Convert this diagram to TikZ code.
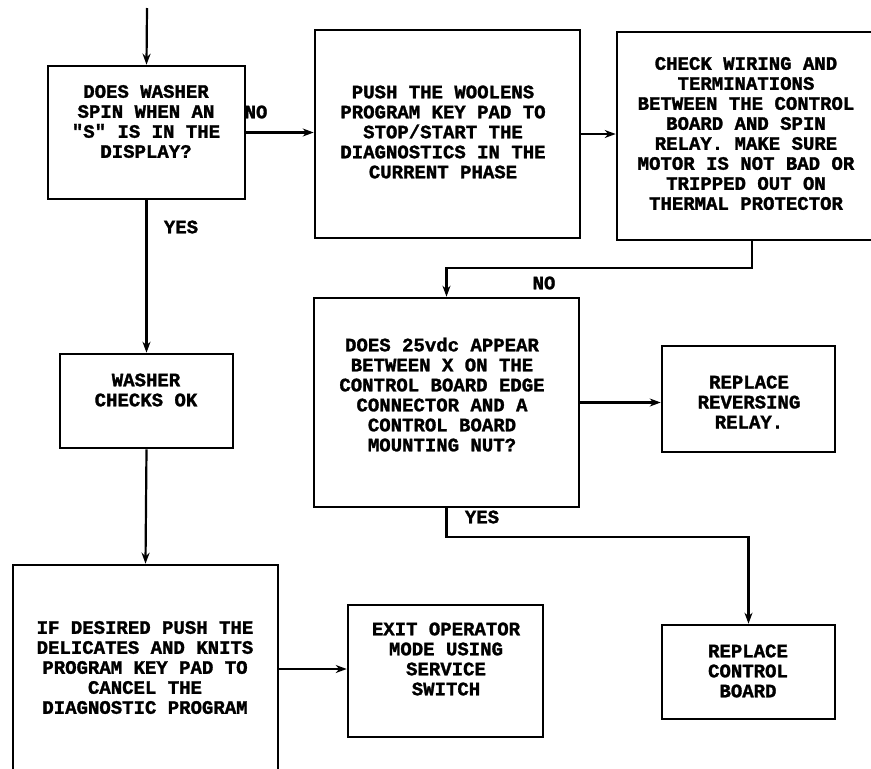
\documentclass[tikz,border=0pt]{standalone}
\usepackage{fontspec}
\newfontfamily\diagfont[BoldFeatures={FakeBold=1.5}]{Liberation Mono}
\usetikzlibrary{arrows.meta}
\begin{document}
\begin{tikzpicture}[x=1pt,y=-1pt,
  box/.style={draw, line width=2.6pt, inner sep=0pt, rectangle},
  txt/.style={font=\diagfont\bfseries\fontsize{19}{20}\selectfont, align=center, inner sep=0pt},
  lbl/.style={font=\diagfont\bfseries\fontsize{19}{20}\selectfont, inner sep=0pt},
  conn/.style={line width=2.2pt, -{Stealth[length=11pt,width=8pt]}}]
\useasboundingbox (0,0) rectangle (871,769);
\clip (0,0) rectangle (871,769);
% boxes
\node[box, minimum width=197pt, minimum height=133pt] (A) at (146.5,132.5) {};
\node[box, minimum width=265pt, minimum height=208pt] (B) at (447.5,134) {};
\node[box, minimum width=258pt, minimum height=208pt] (C) at (746,136) {};
\node[box, minimum width=265pt, minimum height=209pt] (D) at (446.5,402.5) {};
\node[box, minimum width=173pt, minimum height=106pt] (E) at (748.5,399) {};
\node[box, minimum width=173pt, minimum height=94pt] (F) at (748.5,672) {};
\node[box, minimum width=173pt, minimum height=94pt] (G) at (146.5,401) {};
\node[box, minimum width=265pt, minimum height=208pt] (H) at (145.5,669) {};
\node[box, minimum width=195pt, minimum height=132pt] (I) at (445.5,671) {};
% texts
\node[txt] (At) at (146,121.5) {DOES WASHER\\SPIN WHEN AN\\"S" IS IN THE\\DISPLAY?};
\node[txt] (Bt) at (443,132) {PUSH THE WOOLENS\\PROGRAM KEY PAD TO\\STOP/START THE\\DIAGNOSTICS IN THE\\CURRENT PHASE};
\node[txt] (Ct) at (746,133.5) {CHECK WIRING AND\\TERMINATIONS\\BETWEEN THE CONTROL\\BOARD AND SPIN\\RELAY. MAKE SURE\\MOTOR IS NOT BAD OR\\TRIPPED OUT ON\\THERMAL PROTECTOR};
\node[txt] (Dt) at (442,394.5) {DOES 25vdc APPEAR\\BETWEEN X ON THE\\CONTROL BOARD EDGE\\CONNECTOR AND A\\CONTROL BOARD\\MOUNTING NUT?};
\node[txt] (Et) at (749,402) {REPLACE\\REVERSING\\RELAY.};
\node[txt] (Ft) at (748,671) {REPLACE\\CONTROL\\BOARD};
\node[txt] (Gt) at (146,390) {WASHER\\CHECKS OK};
\node[txt] (Ht) at (145,667.5) {IF DESIRED PUSH THE\\DELICATES AND KNITS\\PROGRAM KEY PAD TO\\CANCEL THE\\DIAGNOSTIC PROGRAM};
\node[txt] (It) at (446,659) {EXIT OPERATOR\\MODE USING\\SERVICE\\SWITCH};
% labels
\node[lbl] (no1) at (256,112) {NO};
\node[lbl] (yes1) at (181,227) {YES};
\node[lbl] (no2) at (544,283) {NO};
\node[lbl] (yes2) at (482,517) {YES};
% connectors
\coordinate (start) at (147,8);
\draw[conn] (start) -- (A.north);
\draw[conn] (A.east) -- (A.east -| B.west);
\draw[conn] (B.east) -- (B.east -| C.west);
\draw[conn] ([xshift=6pt]C.south) -- ++(0,27) -| (D.north);
\draw[conn] (D.east) -- (D.east -| E.west);
\draw[conn] (D.south) -- ++(0,29) -| (F.north);
\draw[conn] (A.south) -- (G.north);
\draw[conn] (G.south) -- (H.north);
\draw[conn] (H.east) -- (H.east -| I.west);
\end{tikzpicture}
\end{document}
